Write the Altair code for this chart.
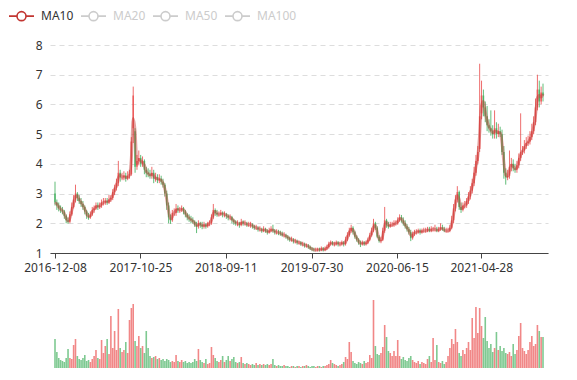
import altair as alt
import pandas as pd

START = "2016-12-08"

# weekly candles
close = [
    2.70, 2.60, 2.50, 2.45, 2.40, 2.25, 2.10, 2.05, 2.30, 2.55,
    2.80, 3.00, 2.85, 2.75, 2.65, 2.55, 2.40, 2.25, 2.20, 2.30,
    2.45, 2.50, 2.60, 2.55, 2.60, 2.70, 2.70, 2.75, 2.70, 2.80,
    2.85, 3.05, 3.20, 3.35, 3.70, 3.55, 3.55, 3.60, 3.50, 3.60,
    3.65, 4.75, 6.30, 3.90, 4.10, 4.20, 4.00, 4.10, 3.80, 3.70,
    3.65, 3.60, 3.70, 3.50, 3.55, 3.45, 3.50, 3.40, 3.30, 3.00,
    2.60, 2.20, 2.10, 2.35, 2.35, 2.50, 2.45, 2.45, 2.50, 2.40,
    2.30, 2.20, 2.15, 2.10, 2.05, 1.95, 1.90, 2.00, 1.95, 1.90,
    1.95, 1.90, 2.00, 2.00, 2.20, 2.45, 2.35, 2.30, 2.30, 2.35,
    2.30, 2.30, 2.25, 2.20, 2.20, 2.10, 2.05, 2.00, 2.00, 1.95,
    2.05, 2.00, 2.00, 1.95, 1.95, 1.95, 1.90, 1.85, 1.85, 1.80,
    1.80, 1.75, 1.80, 1.75, 1.70, 1.75, 1.80, 1.75, 1.70, 1.70,
    1.68, 1.65, 1.60, 1.60, 1.55, 1.50, 1.45, 1.45, 1.40, 1.40,
    1.35, 1.35, 1.30, 1.30, 1.25, 1.25, 1.20, 1.15, 1.12, 1.10,
    1.10, 1.12, 1.10, 1.15, 1.10, 1.15, 1.20, 1.30, 1.35, 1.30,
    1.30, 1.35, 1.30, 1.30, 1.35, 1.30, 1.45, 1.60, 1.75, 1.85,
    1.70, 1.55, 1.45, 1.35, 1.30, 1.35, 1.30, 1.35, 1.45, 1.60,
    1.75, 2.00, 1.85, 1.55, 1.40, 1.45, 1.75, 2.10, 1.95, 1.90,
    1.95, 1.95, 2.00, 2.00, 2.10, 2.20, 2.10, 2.00, 1.90, 1.80,
    1.70, 1.50, 1.65, 1.70, 1.70, 1.75, 1.70, 1.75, 1.75, 1.75,
    1.80, 1.75, 1.80, 1.80, 1.80, 1.75, 1.80, 1.85, 1.80, 1.75,
    1.75, 1.75, 1.85, 2.10, 2.50, 2.80, 3.05, 2.55, 2.45, 2.60,
    2.60, 2.75, 2.90, 3.10, 3.35, 3.70, 4.10, 4.40, 5.60, 6.30,
    5.90, 5.60, 5.30, 5.20, 5.10, 5.00, 5.20, 5.00, 5.10, 5.00,
    4.40, 3.70, 3.55, 3.60, 3.90, 4.00, 3.85, 3.80, 3.95, 4.20,
    4.40, 4.45, 4.60, 4.70, 4.75, 4.90, 5.10, 5.40, 5.90, 6.50,
    6.10, 6.40, 6.30,
]
open_ = [
    3.00, 2.70, 2.60, 2.50, 2.45, 2.40, 2.25, 2.10, 2.05, 2.30,
    2.55, 2.80, 3.00, 2.85, 2.75, 2.65, 2.55, 2.40, 2.25, 2.20,
    2.30, 2.45, 2.50, 2.60, 2.55, 2.60, 2.70, 2.70, 2.75, 2.70,
    2.80, 2.85, 3.05, 3.20, 3.35, 3.70, 3.55, 3.55, 3.60, 3.50,
    3.60, 3.65, 5.20, 5.10, 3.90, 4.10, 4.20, 4.00, 4.10, 3.80,
    3.70, 3.65, 3.60, 3.70, 3.50, 3.55, 3.45, 3.50, 3.40, 3.30,
    3.00, 2.60, 2.20, 2.10, 2.35, 2.35, 2.50, 2.45, 2.45, 2.50,
    2.40, 2.30, 2.20, 2.15, 2.10, 2.05, 1.95, 1.90, 2.00, 1.95,
    1.90, 1.95, 1.90, 2.00, 2.00, 2.20, 2.45, 2.35, 2.30, 2.30,
    2.35, 2.30, 2.30, 2.25, 2.20, 2.20, 2.10, 2.05, 2.00, 2.00,
    1.95, 2.05, 2.00, 2.00, 1.95, 1.95, 1.95, 1.90, 1.85, 1.85,
    1.80, 1.80, 1.75, 1.80, 1.75, 1.70, 1.75, 1.80, 1.75, 1.70,
    1.70, 1.68, 1.65, 1.60, 1.60, 1.55, 1.50, 1.45, 1.45, 1.40,
    1.40, 1.35, 1.35, 1.30, 1.30, 1.25, 1.25, 1.20, 1.15, 1.12,
    1.10, 1.10, 1.12, 1.10, 1.15, 1.10, 1.15, 1.20, 1.30, 1.35,
    1.30, 1.30, 1.35, 1.30, 1.30, 1.35, 1.30, 1.45, 1.60, 1.75,
    1.85, 1.70, 1.55, 1.45, 1.35, 1.30, 1.35, 1.30, 1.35, 1.45,
    1.60, 1.75, 2.00, 1.85, 1.55, 1.40, 1.45, 1.75, 2.10, 1.95,
    1.90, 1.95, 1.95, 2.00, 2.00, 2.10, 2.20, 2.10, 2.00, 1.90,
    1.80, 1.70, 1.50, 1.65, 1.70, 1.70, 1.75, 1.70, 1.75, 1.75,
    1.75, 1.80, 1.75, 1.80, 1.80, 1.80, 1.75, 1.80, 1.85, 1.80,
    1.75, 1.75, 1.75, 1.85, 2.10, 2.50, 2.80, 3.05, 2.55, 2.45,
    2.60, 2.60, 2.75, 2.90, 3.10, 3.35, 3.70, 4.10, 4.50, 5.70,
    6.30, 5.90, 5.60, 5.30, 5.20, 5.10, 5.00, 5.20, 5.00, 5.10,
    5.00, 4.40, 3.70, 3.55, 3.60, 3.90, 4.00, 3.85, 3.80, 3.95,
    4.20, 4.40, 4.45, 4.60, 4.70, 4.75, 4.90, 5.10, 5.40, 5.90,
    6.50, 6.10, 6.40,
]
high = [
    3.40, 2.80, 2.70, 2.60, 2.55, 2.45, 2.30, 2.20, 2.40, 2.70,
    2.95, 3.30, 3.05, 2.95, 2.85, 2.75, 2.60, 2.45, 2.35, 2.40,
    2.55, 2.60, 2.70, 2.70, 2.70, 2.80, 2.85, 2.85, 2.85, 2.95,
    2.95, 3.15, 3.30, 3.50, 4.10, 3.80, 3.70, 3.75, 3.70, 3.75,
    3.80, 4.90, 6.60, 5.20, 4.30, 4.45, 4.30, 4.25, 4.15, 3.90,
    3.85, 3.80, 3.90, 3.80, 3.70, 3.65, 3.65, 3.60, 3.50, 3.35,
    3.10, 2.70, 2.30, 2.45, 2.50, 2.65, 2.60, 2.55, 2.60, 2.55,
    2.45, 2.35, 2.30, 2.25, 2.20, 2.10, 2.05, 2.10, 2.05, 2.05,
    2.05, 2.00, 2.05, 2.10, 2.30, 2.65, 2.50, 2.45, 2.40, 2.45,
    2.40, 2.40, 2.35, 2.30, 2.30, 2.25, 2.15, 2.10, 2.10, 2.05,
    2.15, 2.10, 2.10, 2.05, 2.05, 2.05, 2.00, 1.95, 1.95, 1.90,
    1.90, 1.85, 1.90, 1.85, 1.80, 1.85, 1.90, 1.95, 1.80, 1.80,
    1.78, 1.75, 1.72, 1.70, 1.65, 1.60, 1.55, 1.55, 1.50, 1.48,
    1.45, 1.42, 1.40, 1.38, 1.35, 1.32, 1.30, 1.25, 1.20, 1.18,
    1.18, 1.18, 1.18, 1.22, 1.20, 1.22, 1.28, 1.38, 1.42, 1.40,
    1.38, 1.42, 1.40, 1.38, 1.42, 1.40, 1.55, 1.70, 1.85, 1.95,
    1.90, 1.75, 1.60, 1.50, 1.42, 1.42, 1.40, 1.42, 1.52, 1.68,
    1.85, 2.15, 2.05, 1.90, 1.60, 1.55, 1.85, 2.55, 2.15, 2.05,
    2.05, 2.05, 2.10, 2.10, 2.20, 2.30, 2.28, 2.20, 2.10, 1.98,
    1.88, 1.78, 1.72, 1.78, 1.80, 1.82, 1.82, 1.82, 1.85, 1.85,
    1.88, 1.88, 1.90, 1.88, 1.95, 1.88, 1.88, 2.00, 1.95, 1.88,
    1.85, 1.85, 1.95, 2.25, 2.65, 2.95, 3.25, 3.10, 2.70, 2.70,
    2.75, 2.85, 3.05, 3.25, 3.50, 3.90, 4.30, 4.60, 7.37, 6.80,
    6.50, 6.10, 5.95, 5.50, 5.80, 5.30, 5.80, 5.40, 5.35, 5.25,
    5.15, 4.60, 3.85, 3.80, 4.45, 4.20, 4.15, 4.00, 4.10, 4.35,
    5.70, 4.60, 4.80, 4.90, 4.95, 5.10, 5.35, 5.60, 6.20, 7.00,
    6.80, 6.60, 6.70,
]
low = [
    2.60, 2.45, 2.40, 2.35, 2.30, 2.15, 2.00, 1.98, 2.00, 2.25,
    2.50, 2.70, 2.75, 2.65, 2.55, 2.45, 2.30, 2.15, 2.12, 2.15,
    2.25, 2.35, 2.45, 2.45, 2.48, 2.52, 2.60, 2.62, 2.62, 2.65,
    2.72, 2.78, 2.95, 3.10, 3.25, 3.40, 3.45, 3.45, 3.40, 3.45,
    3.50, 3.60, 4.70, 3.70, 3.80, 3.95, 3.90, 3.90, 3.65, 3.55,
    3.55, 3.50, 3.50, 3.35, 3.40, 3.35, 3.35, 3.30, 3.20, 2.90,
    2.45, 2.00, 1.98, 2.05, 2.25, 2.25, 2.35, 2.35, 2.38, 2.30,
    2.20, 2.10, 2.05, 2.00, 1.98, 1.88, 1.67, 1.82, 1.85, 1.80,
    1.82, 1.82, 1.85, 1.90, 1.95, 2.15, 2.25, 2.22, 2.22, 2.25,
    2.20, 2.20, 2.15, 2.10, 2.10, 2.00, 1.95, 1.92, 1.90, 1.85,
    1.90, 1.92, 1.92, 1.88, 1.88, 1.85, 1.82, 1.78, 1.78, 1.72,
    1.72, 1.68, 1.70, 1.68, 1.62, 1.65, 1.70, 1.68, 1.62, 1.62,
    1.60, 1.58, 1.55, 1.52, 1.48, 1.42, 1.38, 1.38, 1.32, 1.32,
    1.28, 1.28, 1.24, 1.22, 1.18, 1.18, 1.14, 1.10, 1.06, 1.05,
    1.05, 1.05, 1.05, 1.06, 1.05, 1.06, 1.10, 1.15, 1.25, 1.25,
    1.22, 1.25, 1.22, 1.22, 1.25, 1.22, 1.25, 1.40, 1.55, 1.68,
    1.62, 1.48, 1.38, 1.28, 1.20, 1.25, 1.24, 1.25, 1.30, 1.40,
    1.55, 1.70, 1.78, 1.50, 1.35, 1.33, 1.40, 1.68, 1.85, 1.82,
    1.85, 1.88, 1.88, 1.92, 1.95, 2.05, 2.02, 1.92, 1.82, 1.72,
    1.62, 1.40, 1.45, 1.58, 1.62, 1.65, 1.62, 1.65, 1.68, 1.68,
    1.70, 1.70, 1.70, 1.72, 1.72, 1.70, 1.70, 1.75, 1.75, 1.70,
    1.68, 1.68, 1.70, 1.80, 2.00, 2.40, 2.70, 2.45, 2.35, 2.40,
    2.50, 2.52, 2.65, 2.80, 3.00, 3.25, 3.60, 4.00, 4.40, 5.50,
    5.60, 5.40, 5.10, 5.05, 4.95, 4.85, 4.85, 4.85, 4.90, 4.90,
    4.30, 3.50, 3.30, 3.45, 3.50, 3.75, 3.75, 3.70, 3.70, 3.85,
    4.10, 4.30, 4.35, 4.50, 4.60, 4.65, 4.80, 5.00, 5.30, 5.80,
    5.90, 6.00, 6.10,
]
volume = [
    29, 16, 10, 8, 7, 6, 10, 19, 10, 9,
    23, 29, 12, 9, 8, 10, 13, 7, 8, 6,
    9, 12, 18, 10, 9, 28, 15, 22, 29, 14,
    52, 20, 37, 18, 59, 20, 16, 18, 26, 15,
    48, 60, 64, 27, 22, 32, 20, 22, 15, 37,
    20, 12, 10, 11, 12, 9, 10, 8, 9, 7,
    9, 8, 6, 7, 6, 13, 7, 6, 8, 6,
    7, 5, 6, 5, 6, 9, 7, 19, 8, 6,
    5, 9, 4, 5, 21, 13, 10, 7, 6, 8,
    12, 6, 8, 12, 7, 9, 11, 6, 5, 6,
    11, 5, 4, 5, 4, 3, 4, 3, 5, 3,
    4, 3, 4, 3, 4, 3, 4, 9, 3, 2,
    3, 2, 2, 3, 2, 2, 1, 2, 2, 1,
    2, 2, 1, 2, 2, 3, 2, 1, 2, 2,
    1, 2, 2, 1, 2, 2, 3, 4, 8, 5,
    4, 3, 2, 3, 4, 6, 11, 9, 26, 16,
    7, 5, 4, 6, 5, 4, 7, 5, 6, 13,
    10, 68, 22, 14, 13, 15, 21, 43, 31, 17,
    15, 12, 17, 12, 28, 12, 9, 11, 8, 7,
    10, 12, 8, 6, 5, 7, 4, 6, 5, 4,
    9, 12, 6, 30, 8, 23, 6, 5, 7, 4,
    6, 12, 20, 29, 24, 39, 26, 15, 12, 18,
    14, 20, 26, 18, 50, 30, 61, 35, 60, 42,
    30, 51, 27, 20, 24, 16, 20, 36, 18, 22,
    17, 20, 15, 14, 16, 12, 24, 14, 18, 32,
    45, 20, 17, 14, 18, 26, 32, 22, 24, 43,
    37, 31, 31,
]
axis_dates = ["2016-12-08", "2017-10-25", "2018-09-11", "2019-07-30", "2020-06-15", "2021-04-28"]
series_names = ["MA10", "MA20", "MA50", "MA100"]
series_colors = ["#c23531", "#cccccc", "#cccccc", "#cccccc"]
price_ticks = [1, 2, 3, 4, 5, 6, 7, 8]

UP = "#eb5454"
DOWN = "#47b262"

n = len(close)
dates = pd.date_range(START, periods=n, freq="7D")
df = pd.DataFrame({
    "date": dates.strftime("%Y-%m-%d"),
    "open": open_, "close": close, "high": high, "low": low,
    "volume": volume, "series": "MA10",
})


def ms(s):
    return int(pd.Timestamp(s, tz="UTC").value // 10**6)


x_dom = [ms(df["date"].iloc[0]), ms(df["date"].iloc[-1])]
x_scale = alt.Scale(type="utc", domain=x_dom, nice=False)

x_axis_main = alt.Axis(
    values=[ms(d) for d in axis_dates], format="%Y-%m-%d", title=None,
    grid=False, labelFlush=False, labelOverlap=False, zindex=1,
    domainColor="#444444", domainWidth=1, tickColor="#444444", tickSize=5, labelPadding=4,
    labelColor="#333333", labelFontSize=12,
)
y_scale = alt.Scale(domain=[1, 8], nice=False, zero=False)
y_axis = alt.Axis(
    values=price_ticks, title=None, domain=False, ticks=False,
    grid=True, gridDash=[5, 4], gridColor="#dddddd",
    labelPadding=8, labelColor="#333333", labelFontSize=12,
    minExtent=42, maxExtent=42,
)

up_cond = alt.condition("datum.close >= datum.open", alt.value(UP), alt.value(DOWN))

base = alt.Chart(df)
X = alt.X("date:T", scale=x_scale, axis=x_axis_main)

wicks = base.mark_rule(strokeWidth=1, opacity=0.85).encode(
    x=X, y=alt.Y("low:Q", scale=y_scale, axis=y_axis), y2="high:Q", color=up_cond
)
bodies = base.mark_bar(size=1.6, opacity=0.85).encode(
    x=X, y=alt.Y("open:Q", scale=y_scale, axis=y_axis), y2="close:Q", color=up_cond
)

# legend icon: line - hollow circle - line (unit = 7px)
LEGEND_PATH = ("M-1.786,0L-0.643,0M0.643,0L1.786,0"
               "M0.643,0A0.643,0.643,0,1,1,-0.643,0A0.643,0.643,0,1,1,0.643,0Z")

ma = base.transform_window(
    ma="mean(close)", frame=[-1, 0], sort=[alt.SortField("date")]
).mark_line(strokeWidth=3, opacity=0.45, interpolate="monotone").encode(
    x=X,
    y=alt.Y("ma:Q", scale=y_scale, axis=y_axis),
    color=alt.Color(
        "series:N",
        scale=alt.Scale(domain=series_names, range=series_colors),
        legend=alt.Legend(
            title=None, orient="none", legendX=-36.5, legendY=-37,
            direction="horizontal", symbolType=LEGEND_PATH, symbolSize=196,
            symbolStrokeWidth=1.6, symbolFillColor="#ffffff", symbolOpacity=1,
            labelOffset=11.5, labelFontSize=12, columnPadding=-3, gridAlign="all",
            padding=0, labelLimit=200,
            labelColor={"expr": "datum.label == 'MA10' ? '#333333' : '#cccccc'"},
        ),
    ),
)

main = alt.layer(wicks, bodies, ma).properties(width=498, height=208)

vol = base.mark_bar(size=1.6, opacity=0.7).encode(
    x=alt.X("date:T", scale=x_scale, axis=alt.Axis(
        labels=False, ticks=False, grid=False, title=None, zindex=1,
        domain=True, domainColor="#444444", domainWidth=1)),
    y=alt.Y("volume:Q", scale=alt.Scale(domain=[0, 72], nice=False), axis=alt.Axis(
        labels=False, ticks=False, domain=False, grid=False, title=None,
        minExtent=42, maxExtent=42)),
    color=up_cond,
).properties(width=498, height=72)

chart = (
    alt.vconcat(main, vol, spacing=23, padding=0)
    .resolve_scale(color="independent")
    .configure(font="Noto Sans")
    .configure_view(strokeWidth=0, stroke="transparent")
)

chart.save("out.html", embed_options={"renderer": "svg", "actions": False})
